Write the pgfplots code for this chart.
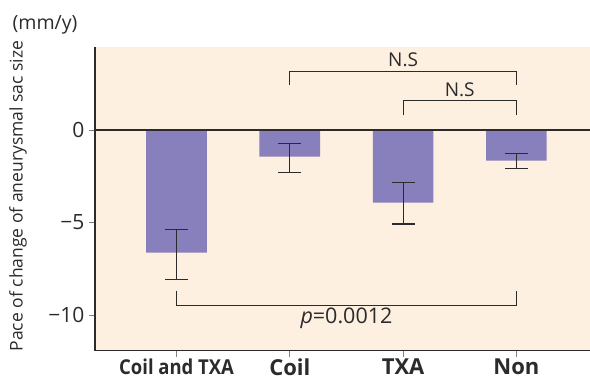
\documentclass[border=0pt]{standalone}
\usepackage{pgfplots}
\pgfplotsset{compat=1.18}
\usepackage{fontspec}
\setmainfont{Open Sans}
\definecolor{barc}{HTML}{8780BC}
\definecolor{bgc}{HTML}{FDF0E1}
\definecolor{txt}{HTML}{2B2B2B}
\newcommand{\tl}[1]{{\fontsize{21}{24}\selectfont #1}}
\begin{document}
\begin{tikzpicture}[x=1pt,y=1pt]
\useasboundingbox (-95,-30.5) rectangle (495,350.5);
\begin{axis}[
  at={(0,0)}, anchor=south west,
  scale only axis, width=495pt, height=303.5pt,
  xmin=-0.72, xmax=3.65, ymin=-11.92, ymax=4.49,
  axis lines=left,
  axis line style={-, line width=1.8pt, color=txt},
  axis background/.style={fill=bgc},
  ytick={-10,-5,0}, yticklabels={\tl{−10},\tl{−5},\tl{0}},
  xtick={0,1,2,3},
  xticklabels={{\scalebox{0.9}[1]{\fontsize{20.5}{24}\selectfont\bfseries Coil and TXA}},
               {\fontsize{22}{24}\selectfont\bfseries Coil},
               {\fontsize{22}{24}\selectfont\bfseries TXA},
               {\fontsize{22}{24}\selectfont\bfseries Non}},
  tick align=outside,
  major tick length=6pt,
  tick style={color=gray, line width=0.8pt},
  yticklabel style={text=txt, xshift=-1pt},
  xticklabel style={text=txt, anchor=north, yshift=1pt},
  /pgf/number format/assume math mode=true,
  clip=false,
]
\addplot[ybar, bar width=60.7pt, fill=barc, draw=none,
  error bars/.cd, y dir=both, y explicit,
  error bar style={line width=1.1pt, color=txt},
  error mark options={rotate=90, mark size=11.5pt, line width=1.1pt, color=txt}]
  coordinates {
  (0,-6.63) += (0,1.24) -= (0,1.44)
  (1,-1.44) += (0,0.70) -= (0,0.87)
  (2,-3.93) += (0,1.08) -= (0,1.15)
  (3,-1.66) += (0,0.40) -= (0,0.43)
  };
\addplot[line width=1.8pt, color=txt] coordinates {(-0.72,0) (3.65,0)};
% brackets
\draw[line width=1pt, color=txt] (axis cs:1,2.43) -- (axis cs:1,3.17) -- (axis cs:3,3.17) -- (axis cs:3,2.43);
\node[font=\fontsize{19}{22}\selectfont, text=txt] at (axis cs:2,3.8) {N.S};
\draw[line width=1pt, color=txt] (axis cs:2,0.81) -- (axis cs:2,1.58) -- (axis cs:3,1.58) -- (axis cs:3,0.81);
\node[font=\fontsize{19}{22}\selectfont, text=txt] at (axis cs:2.5,2.2) {N.S};
\draw[line width=1pt, color=txt] (axis cs:0,-8.69) -- (axis cs:0,-9.46) -- (axis cs:3,-9.46) -- (axis cs:3,-8.69);
\node[font=\fontsize{21.5}{24}\selectfont, text=txt] at (axis cs:1.5,-10.2) {\textit{p}=0.0012};
\end{axis}
\node[rotate=90, font=\fontsize{17.5}{20}\selectfont, text=txt] at (-77,154.5) {Pace of change of aneurysmal sac size};
\node[font=\fontsize{19.5}{22}\selectfont, text=txt] at (-50,325.5) {(mm/y)};
\end{tikzpicture}
\end{document}
